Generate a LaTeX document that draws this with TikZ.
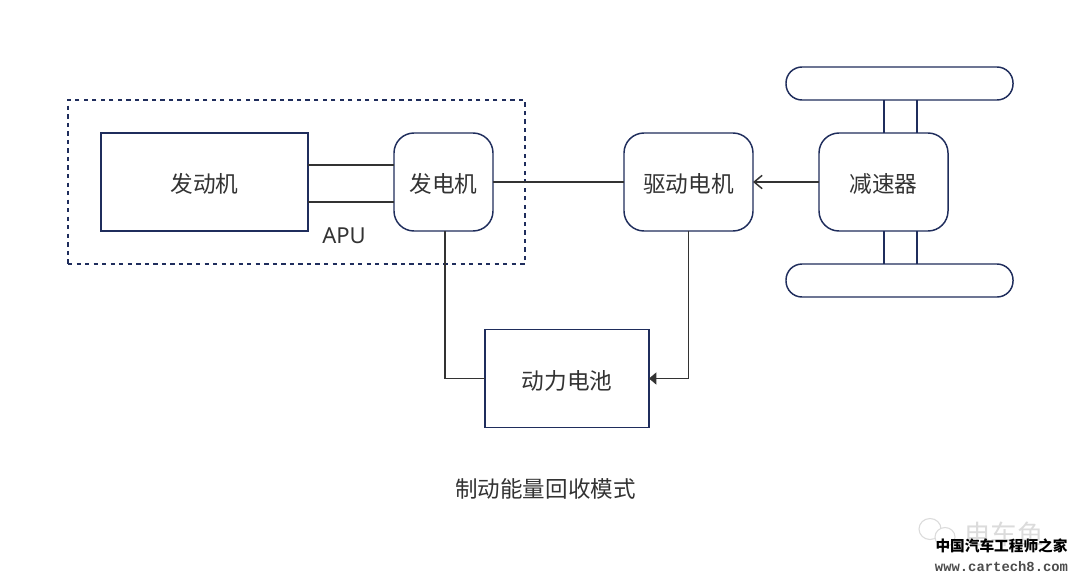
\documentclass[tikz,border=0pt]{standalone}
\usepackage{fontspec}
\setmainfont{Noto Sans}
\setmonofont{Liberation Mono}
\newfontfamily\cjk{Noto Sans CJK SC}
\usetikzlibrary{arrows.meta,positioning}
\definecolor{navy}{HTML}{1F2D5C}
\definecolor{ink}{HTML}{333333}

\begin{document}
\begin{tikzpicture}[
  x=.75pt, y=-.75pt,
  box/.style={draw=navy, line width=1.1pt, outer sep=0pt, inner sep=0pt,
              minimum height=73.5pt, text height=18pt, text depth=2pt,
              text=ink, font=\fontsize{17}{20}\selectfont\cjk},
  rbox/.style={box, rounded corners=15pt},
  wheel/.style={draw=navy, line width=1.1pt, outer sep=0pt, rounded corners=12pt,
                minimum width=170.25pt, minimum height=24.75pt},
  lnk/.style={draw=ink, line width=1.1pt},
  axle/.style={draw=navy, line width=1.1pt},
  arr/.style={lnk, -{Straight Barb[length=6pt,width=10pt]}},
  farr/.style={lnk, -{Triangle[length=5.5pt,width=9pt]}},
  bubble/.style={draw=black!14, line width=.8pt, fill=white}]
\path[use as bounding box, fill=white] (0,0) rectangle (1080,583);
\node[box, minimum width=155.25pt] (engine) at (204.5,182) {发动机};
\node[rbox, minimum width=74.25pt, right=64.5pt of engine] (gen) {发电机};
\node[rbox, minimum width=96.75pt, right=98.25pt of gen] (drive) {驱动电机};
\node[rbox, minimum width=96.75pt, right=49.5pt of drive] (reducer) {减速器};
\node[box, minimum width=123pt] (battery) at (567,378.5) {动力电池};
\node[wheel] (wheeltop) at (899.5,83.5) {};
\node[wheel] (wheelbot) at (899.5,280.5) {};
\node[draw=navy, line width=1.1pt, dash pattern=on 3.2pt off 3.2pt, outer sep=0pt,
      minimum width=342.75pt, minimum height=123pt] (apu) at (296.5,182) {};
\node[text=ink, font=\fontsize{16.5}{20}\selectfont] (apulbl) at (344,236) {APU};
\node[text=ink, font=\fontsize{16.9}{20}\selectfont\cjk] (title) at (545.5,489) {制动能量回收模式};
% shafts
\draw[lnk] ([yshift=12.75pt]engine.east) -- ([yshift=12.75pt]engine.east -| gen.west);
\draw[lnk] ([yshift=-15pt]engine.east) -- ([yshift=-15pt]engine.east -| gen.west);
\draw[lnk] (gen) -- (drive);
\draw[arr] (reducer) -- (drive);
\draw[lnk] ([xshift=1.1pt]gen.south) |- (battery.west);
\draw[farr] (drive.south) |- (battery.east);
% axles
\foreach \dx in {.4pt,25.1pt} {
  \draw[axle] ([xshift=\dx]reducer.north) -- ([xshift=\dx]reducer.north |- wheeltop.south);
  \draw[axle] ([xshift=\dx]reducer.south) -- ([xshift=\dx]reducer.south |- wheelbot.north);
}
% watermark
\draw[bubble] (930,529) ellipse (11 and 10.5);
\draw[bubble] (945,537) ellipse (10 and 9.5);
\node[text=black!14, font=\fontsize{20}{22}\selectfont\cjk] (mark) at (1004,534) {电车鱼};
\node[font=\fontsize{11}{13}\selectfont\cjk\bfseries] (site) at (1001.5,546) {中国汽车工程师之家};
\node[font=\fontsize{10.4}{13}\selectfont\ttfamily\bfseries, text=black!70] (url) at (1001.5,567) {www.cartech8.com};
\end{tikzpicture}
\end{document}
